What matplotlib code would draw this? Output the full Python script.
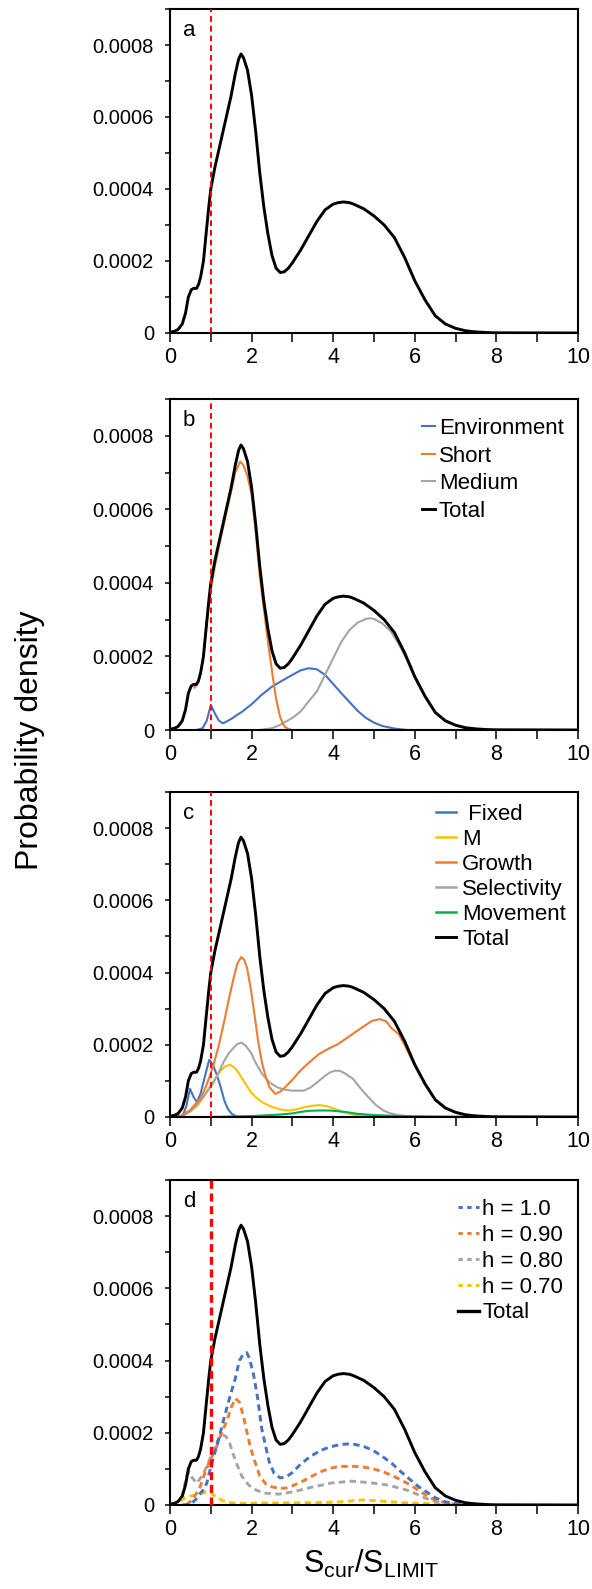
import matplotlib
matplotlib.use('Agg')
import matplotlib.pyplot as plt
from matplotlib.ticker import MultipleLocator, FuncFormatter
from matplotlib.lines import Line2D

plt.rcParams['font.family'] = ['Liberation Sans', 'DejaVu Sans']
plt.rcParams['mathtext.fontset'] = 'custom'
plt.rcParams['mathtext.rm'] = 'Liberation Sans'

# all densities below in units of 1e-4
UNIT = 1e-4

# total (same curve in every panel)
total_x = [0, 0.12, 0.2, 0.3, 0.38, 0.45, 0.52, 0.58, 0.65, 0.7, 0.75, 0.82, 0.88, 0.95, 1.0,
           1.1, 1.2, 1.3, 1.4, 1.5, 1.6, 1.68, 1.74, 1.8, 1.9, 2.0, 2.1, 2.2, 2.3, 2.4, 2.5,
           2.6, 2.7, 2.8, 2.9, 3.0, 3.2, 3.4, 3.6, 3.8, 4.0, 4.12, 4.25, 4.4, 4.5, 4.75, 5.0, 5.25,
           5.5, 5.75, 6.0, 6.25, 6.5, 6.75, 7.0, 7.25, 7.5, 7.8, 8.0, 10.0]
total_y = [0.02, 0.05, 0.1, 0.25, 0.55, 1.0, 1.2, 1.24, 1.24, 1.35, 1.55, 2.0, 2.7, 3.5, 4.0,
           4.6, 5.1, 5.6, 6.1, 6.6, 7.2, 7.6, 7.75, 7.65, 7.3, 6.6, 5.6, 4.45, 3.5, 2.75, 2.15,
           1.8, 1.68, 1.7, 1.8, 1.95, 2.3, 2.7, 3.1, 3.42, 3.58, 3.62, 3.64, 3.62, 3.58, 3.45, 3.25,
           3.0, 2.65, 2.1, 1.45, 0.92, 0.48, 0.25, 0.13, 0.06, 0.03, 0.01, 0.005, 0.0]

# panel b
env_x = [0.65, 0.8, 0.9, 1.0, 1.1, 1.2, 1.3, 1.5, 1.77, 2.0, 2.24, 2.5, 2.7, 3.0, 3.2, 3.4,
         3.6, 3.8, 4.0, 4.2, 4.4, 4.6, 4.8, 5.0, 5.2, 5.5, 5.8]
env_y = [0.0, 0.05, 0.25, 0.68, 0.45, 0.25, 0.18, 0.3, 0.5, 0.7, 0.95, 1.18, 1.31, 1.5, 1.62, 1.68,
         1.65, 1.5, 1.25, 1.0, 0.76, 0.52, 0.33, 0.2, 0.11, 0.04, 0.0]
short_x = [0.6, 0.7, 0.8, 0.9, 1.0, 1.1, 1.2, 1.3, 1.4, 1.5, 1.6, 1.72, 1.8, 1.9, 2.0, 2.1,
           2.2, 2.3, 2.4, 2.5, 2.6, 2.7, 2.8, 2.9, 3.0, 7.3]
short_y = [1.15, 1.3, 1.85, 2.9, 3.8, 4.45, 5.0, 5.5, 6.0, 6.5, 7.0, 7.3, 7.2, 6.9, 6.4, 5.4,
           4.2, 3.3, 2.4, 1.6, 0.85, 0.35, 0.1, 0.03, 0.0, 0.0]
med_x = [2.2, 2.5, 2.7, 3.0, 3.2, 3.4, 3.6, 3.8, 4.0, 4.2, 4.4, 4.6, 4.8, 4.9, 5.0, 5.2, 5.4,
         5.6, 5.8, 6.0, 6.25, 6.5, 6.75, 7.0, 7.3, 7.6]
med_y = [0.0, 0.05, 0.14, 0.33, 0.5, 0.78, 1.05, 1.5, 1.95, 2.4, 2.72, 2.92, 3.02, 3.04, 3.02,
         2.9, 2.7, 2.35, 1.92, 1.42, 0.9, 0.47, 0.24, 0.12, 0.04, 0.0]

# panel c
fix_x = [0.0, 0.3, 0.4, 0.49, 0.58, 0.66, 0.75, 0.85, 0.96, 1.05, 1.14, 1.25, 1.33, 1.42, 1.51, 1.65, 7.5]
fix_y = [0.0, 0.0, 0.3, 0.78, 0.55, 0.41, 0.65, 1.1, 1.58, 1.45, 1.19, 0.8, 0.46, 0.22, 0.09, 0.0, 0.0]
m_x = [0.0, 0.3, 0.4, 0.55, 0.68, 0.82, 0.96, 1.1, 1.24, 1.35, 1.47, 1.6, 1.7, 1.85, 1.98, 2.1,
       2.26, 2.45, 2.63, 2.8, 2.91, 3.1, 3.28, 3.5, 3.65, 3.85, 4.02, 4.2, 4.4, 4.6, 4.77, 5.2, 7.5]
m_y = [0.0, 0.02, 0.09, 0.2, 0.32, 0.55, 0.82, 1.05, 1.28, 1.4, 1.45, 1.35, 1.19, 0.92, 0.69, 0.55,
       0.41, 0.3, 0.23, 0.19, 0.18, 0.21, 0.27, 0.31, 0.33, 0.3, 0.23, 0.16, 0.09, 0.05, 0.02, 0.0, 0.0]
gro_x = [0.0, 0.3, 0.5, 0.77, 0.9, 1.05, 1.2, 1.33, 1.45, 1.56, 1.65, 1.75, 1.82, 1.89, 1.98, 2.07,
         2.16, 2.26, 2.35, 2.44, 2.58, 2.7, 2.82, 3.0, 3.19, 3.4, 3.65, 3.9, 4.12, 4.35, 4.58, 4.8,
         4.95, 5.14, 5.3, 5.42, 5.6, 5.75, 6.0, 6.25, 6.5, 6.75, 7.0, 7.25, 7.5]
gro_y = [0.0, 0.05, 0.2, 0.55, 0.9, 1.37, 2.0, 2.66, 3.3, 3.85, 4.25, 4.43, 4.35, 4.12, 3.55, 2.84,
         2.1, 1.47, 1.1, 0.82, 0.64, 0.7, 0.82, 1.03, 1.28, 1.5, 1.74, 1.9, 2.02, 2.2, 2.38, 2.55,
         2.66, 2.71, 2.65, 2.47, 2.3, 2.0, 1.42, 0.9, 0.47, 0.24, 0.12, 0.05, 0.02]
sel_x = [0.0, 0.3, 0.5, 0.68, 0.85, 1.05, 1.2, 1.33, 1.45, 1.56, 1.65, 1.75, 1.85, 1.98, 2.1, 2.26,
         2.45, 2.63, 2.8, 3.0, 3.28, 3.45, 3.65, 3.8, 3.93, 4.05, 4.16, 4.3, 4.49, 4.65, 4.86, 5.05,
         5.23, 5.4, 5.6, 6.0, 7.5]
sel_y = [0.0, 0.03, 0.15, 0.37, 0.6, 0.92, 1.25, 1.56, 1.78, 1.92, 2.02, 2.06, 1.98, 1.79, 1.5, 1.19,
         0.95, 0.82, 0.76, 0.73, 0.73, 0.82, 1.0, 1.14, 1.24, 1.28, 1.28, 1.2, 1.05, 0.82, 0.55, 0.33,
         0.18, 0.1, 0.05, 0.0, 0.0]
mov_x = [0.0, 1.0, 2.07, 2.4, 2.72, 3.0, 3.19, 3.4, 3.65, 3.9, 4.12, 4.35, 4.58, 4.8, 5.05, 5.5, 6.0, 7.0, 8.0]
mov_y = [0.0, 0.0, 0.03, 0.05, 0.07, 0.1, 0.14, 0.17, 0.18, 0.18, 0.16, 0.13, 0.09, 0.07, 0.05, 0.03, 0.02, 0.01, 0.0]

# panel d
h10_x = [0.3, 0.5, 0.63, 0.7, 0.8, 0.9, 1.0, 1.1, 1.2, 1.3, 1.42, 1.52, 1.6, 1.7, 1.8, 1.88, 1.95,
         2.05, 2.15, 2.25, 2.33, 2.43, 2.55, 2.7, 2.85, 3.0, 3.22, 3.45, 3.69, 3.9, 4.15, 4.35, 4.52,
         4.75, 4.98, 5.2, 5.44, 5.65, 5.9, 6.1, 6.28, 6.5, 6.74, 7.0, 7.2, 7.5]
h10_y = [0.0, 0.02, 0.15, 0.27, 0.4, 0.6, 1.05, 1.45, 1.85, 2.3, 2.8, 3.2, 3.5, 4.0, 4.18, 4.22, 4.05,
         3.6, 2.95, 2.1, 1.7, 1.2, 0.88, 0.75, 0.78, 0.9, 1.15, 1.35, 1.51, 1.6, 1.67, 1.69, 1.68,
         1.62, 1.51, 1.35, 1.15, 0.93, 0.69, 0.5, 0.37, 0.2, 0.09, 0.04, 0.02, 0.0]
h09_x = [0.4, 0.55, 0.72, 0.86, 0.95, 1.1, 1.25, 1.4, 1.5, 1.6, 1.7, 1.79, 1.88, 1.97, 2.08, 2.2,
         2.35, 2.5, 2.7, 2.85, 3.0, 3.22, 3.45, 3.69, 3.9, 4.15, 4.52, 4.75, 4.98, 5.2, 5.44, 5.65,
         5.9, 6.1, 6.28, 6.45, 6.65, 7.0, 7.3]
h09_y = [0.0, 0.15, 0.45, 0.9, 1.15, 1.5, 1.95, 2.35, 2.7, 2.95, 2.85, 2.5, 2.05, 1.6, 1.2, 0.8,
         0.58, 0.5, 0.46, 0.47, 0.53, 0.64, 0.78, 0.92, 1.01, 1.07, 1.07, 1.05, 1.0, 0.93, 0.82, 0.7,
         0.55, 0.4, 0.27, 0.16, 0.09, 0.02, 0.0]
h08_x = [0.3, 0.4, 0.47, 0.55, 0.65, 0.75, 0.86, 0.95, 1.09, 1.2, 1.28, 1.37, 1.46, 1.55, 1.65, 1.76,
         1.93, 2.1, 2.3, 2.67, 3.04, 3.5, 3.96, 4.43, 4.89, 5.35, 5.81, 6.05, 6.28, 6.5, 6.7, 7.2]
h08_y = [0.2, 0.8, 0.92, 0.75, 0.6, 0.75, 0.96, 1.2, 1.6, 1.85, 1.95, 1.9, 1.72, 1.4, 1.1, 0.8,
         0.55, 0.42, 0.33, 0.3, 0.37, 0.5, 0.61, 0.66, 0.62, 0.55, 0.41, 0.3, 0.18, 0.1, 0.05, 0.01]
h07_x = [0.0, 0.12, 0.25, 0.37, 0.5, 0.66, 0.8, 0.9, 1.0, 1.1, 1.27, 1.45, 1.6, 2.0, 3.0, 3.8,
         4.2, 4.5, 4.75, 5.0, 5.4, 5.8, 6.3, 6.9, 7.5]
h07_y = [0.0, 0.05, 0.12, 0.2, 0.25, 0.28, 0.33, 0.37, 0.35, 0.25, 0.13, 0.07, 0.05, 0.05, 0.06, 0.07,
         0.09, 0.12, 0.14, 0.12, 0.09, 0.06, 0.04, 0.02, 0.0]

BLUE = '#4472C4'
ORANGE = '#ED7D31'
GRAY = '#A5A5A5'
YELLOW = '#FFC000'
GREEN = '#00B050'

W_PX, H_PX = 592, 1589
fig = plt.figure(figsize=(W_PX / 100, H_PX / 100), dpi=100)

left, right = 170, 578
boxes = [(9, 333), (399, 730), (792, 1117), (1180, 1505)]
axes = []
for top, bot in boxes:
    axes.append(fig.add_axes([left / W_PX, 1 - bot / H_PX, (right - left) / W_PX, (bot - top) / H_PX]))


def ytick_fmt(v, pos):
    if abs(v) < 1e-9:
        return '0'
    return '%.4f' % v


def style_axes(ax, letter):
    ax.set_xlim(0, 10)
    ax.set_ylim(0, 0.0009)
    ax.xaxis.set_major_locator(MultipleLocator(2))
    ax.xaxis.set_minor_locator(MultipleLocator(1))
    ax.yaxis.set_major_locator(MultipleLocator(0.0002))
    ax.yaxis.set_minor_locator(MultipleLocator(0.0001))
    ax.yaxis.set_major_formatter(FuncFormatter(ytick_fmt))
    ax.tick_params(axis='x', which='both', direction='out', length=6.5, width=1.1,
                   labelsize=15.5, pad=3.5)
    ax.tick_params(axis='y', which='both', direction='out', length=3.6, width=1.1,
                   labelsize=14.5, pad=8)
    for s in ax.spines.values():
        s.set_linewidth(1.5)
    ax.text(0.032, 0.935, letter, transform=ax.transAxes, fontsize=16, va='center')


def plot_series(ax, x, y, **kw):
    ax.plot(x, [v * UNIT for v in y], **kw)


# a
ax = axes[0]
plot_series(ax, total_x, total_y, color='black', lw=2.1)
ax.axvline(1, color='red', lw=1.4, dashes=(3, 2), zorder=5)
style_axes(ax, 'a')

# b
ax = axes[1]
plot_series(ax, env_x, env_y, color=BLUE, lw=1.5)
plot_series(ax, med_x, med_y, color=GRAY, lw=1.5)
plot_series(ax, short_x, short_y, color=ORANGE, lw=1.5)
plot_series(ax, total_x, total_y, color='black', lw=2.1)
ax.axvline(1, color='red', lw=1.4, dashes=(3, 2), zorder=5)
style_axes(ax, 'b')
hb = [Line2D([], [], color=BLUE, lw=1.5), Line2D([], [], color=ORANGE, lw=1.5),
      Line2D([], [], color=GRAY, lw=1.5), Line2D([], [], color='black', lw=2.1)]
ax.legend(hb, ['Environment', 'Short', 'Medium', 'Total'], loc='upper left',
          bbox_to_anchor=(0.6176, 0.943), frameon=False, fontsize=16, handlelength=0.6,
          handletextpad=0.15, labelspacing=0.3, borderpad=0, borderaxespad=0)

# c
ax = axes[2]
plot_series(ax, fix_x, fix_y, color=BLUE, lw=1.5)
plot_series(ax, m_x, m_y, color=YELLOW, lw=1.5)
plot_series(ax, sel_x, sel_y, color=GRAY, lw=1.5)
plot_series(ax, gro_x, gro_y, color=ORANGE, lw=1.5)
plot_series(ax, mov_x, mov_y, color=GREEN, lw=1.5)
plot_series(ax, total_x, total_y, color='black', lw=2.1)
ax.axvline(1, color='red', lw=1.4, dashes=(3, 2), zorder=5)
style_axes(ax, 'c')
hc = [Line2D([], [], color=c, lw=1.8) for c in [BLUE, YELLOW, ORANGE, GRAY, GREEN]]
hc.append(Line2D([], [], color='black', lw=2.1))
ax.legend(hc, [' Fixed', 'M', 'Growth', 'Selectivity', 'Movement', 'Total'], loc='upper left',
          bbox_to_anchor=(0.652, 0.963), frameon=False, fontsize=16, handlelength=0.88,
          handletextpad=0.3, labelspacing=0.18, borderpad=0, borderaxespad=0)

# d
ax = axes[3]
dash = (2.2, 1.5)
plot_series(ax, h07_x, h07_y, color=YELLOW, lw=2.1, dashes=dash)
plot_series(ax, h08_x, h08_y, color=GRAY, lw=2.1, dashes=dash)
plot_series(ax, h09_x, h09_y, color=ORANGE, lw=2.1, dashes=dash)
plot_series(ax, h10_x, h10_y, color=BLUE, lw=2.1, dashes=dash)
plot_series(ax, total_x, total_y, color='black', lw=2.1)
ax.axvline(1, color='red', lw=2.4, dashes=(2.4, 1.4), zorder=5)
style_axes(ax, 'd')
hd = [Line2D([], [], color=c, lw=2.1, dashes=(1.5, 1.5)) for c in [BLUE, ORANGE, GRAY, YELLOW]]
hd.append(Line2D([], [], color='black', lw=2.4))
ax.legend(hd, ['h = 1.0', 'h = 0.90', 'h = 0.80', 'h = 0.70', 'Total'], loc='upper left',
          bbox_to_anchor=(0.706, 0.942), frameon=False, fontsize=16, handlelength=0.93,
          handletextpad=0.15, labelspacing=0.22, borderpad=0, borderaxespad=0)

fig.text(30 / W_PX, 1 - 740 / H_PX, 'Probability density', rotation=90, fontsize=23,
         ha='center', va='center')
fig.text(371.5 / W_PX, 1 - 1573 / H_PX, r'$\mathregular{S_{cur}/S_{LIMIT}}$', fontsize=22,
         ha='center', va='baseline')

fig.savefig('out.png', dpi=100)
